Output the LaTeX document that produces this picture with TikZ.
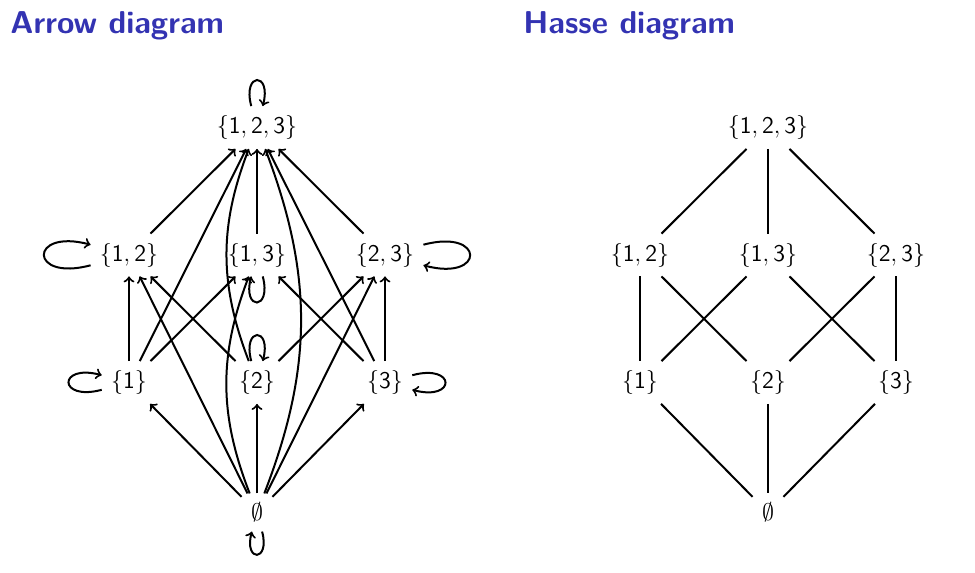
\documentclass[tikz,border=0pt]{standalone}
\usepackage{fontspec}
\usetikzlibrary{arrows}
\definecolor{beamerblue}{rgb}{0.2,0.2,0.7}
\newcommand{\sset}[1]{$\{\mathsf{#1}\}$}
\begin{document}
\begin{tikzpicture}[x=0.5pt,y=-0.5pt,
  every node/.style={font=\fontsize{12}{14.4}\selectfont, inner sep=4.5pt},
  titletext/.style={font=\fontsize{15.8}{19}\selectfont\sffamily\bfseries, text=beamerblue, anchor=base west, inner sep=0pt},
  arr/.style={->, line width=1pt},
  hl/.style={line width=1pt}]
\useasboundingbox (0,0) rectangle (975,573);
\node[titletext] (t1) at (10,33) {Arrow diagram};
\node[titletext] (t2) at (523,33) {Hasse diagram};
% Arrow diagram
\node (a123) at (257,127.5) {\sset{1,2,3}};
\node (a12) at (129,255) {\sset{1,2}};
\node (a13) at (257,255) {\sset{1,3}};
\node (a23) at (385,255) {\sset{2,3}};
\node (a1) at (129,382.5) {\sset{1}};
\node (a2) at (257,382.5) {\sset{2}};
\node (a3) at (385,382.5) {\sset{3}};
\node (a0) at (257,512.5) {$\emptyset$};
\draw[arr] (a0) -- (a1);
\draw[arr] (a0) -- (a2);
\draw[arr] (a0) -- (a3);
\draw[arr] (a0) -- (a12);
\draw[arr] (a0) -- (a23);
\draw[arr] (a0) to[bend left=21] (a13);
\draw[arr] (a0) to[bend right=21] (a123);
\draw[arr] (a1) -- (a12);
\draw[arr] (a1) -- (a13);
\draw[arr] (a1) -- (a123);
\draw[arr] (a2) -- (a12);
\draw[arr] (a2) -- (a23);
\draw[arr] (a2) to[bend left=21] (a123);
\draw[arr] (a3) -- (a13);
\draw[arr] (a3) -- (a23);
\draw[arr] (a3) -- (a123);
\draw[arr] (a12) -- (a123);
\draw[arr] (a13) -- (a123);
\draw[arr] (a23) -- (a123);
\draw[arr] (a123) to[loop above] (a123);
\draw[arr] (a12) to[loop left] (a12);
\draw[arr] (a13) to[loop below] (a13);
\draw[arr] (a23) to[loop right] (a23);
\draw[arr] (a1) to[loop left] (a1);
\draw[arr] (a2) to[loop above] (a2);
\draw[arr] (a3) to[loop right] (a3);
\draw[arr] (a0) to[loop below] (a0);
% Hasse diagram
\node (h123) at (768,127.5) {\sset{1,2,3}};
\node (h12) at (640,255) {\sset{1,2}};
\node (h13) at (768,255) {\sset{1,3}};
\node (h23) at (896,255) {\sset{2,3}};
\node (h1) at (640,382.5) {\sset{1}};
\node (h2) at (768,382.5) {\sset{2}};
\node (h3) at (896,382.5) {\sset{3}};
\node (h0) at (768,512.5) {$\emptyset$};
\draw[hl] (h123) -- (h12);
\draw[hl] (h123) -- (h13);
\draw[hl] (h123) -- (h23);
\draw[hl] (h12) -- (h1);
\draw[hl] (h12) -- (h2);
\draw[hl] (h13) -- (h1);
\draw[hl] (h13) -- (h3);
\draw[hl] (h23) -- (h2);
\draw[hl] (h23) -- (h3);
\draw[hl] (h1) -- (h0);
\draw[hl] (h2) -- (h0);
\draw[hl] (h3) -- (h0);
\end{tikzpicture}
\end{document}
